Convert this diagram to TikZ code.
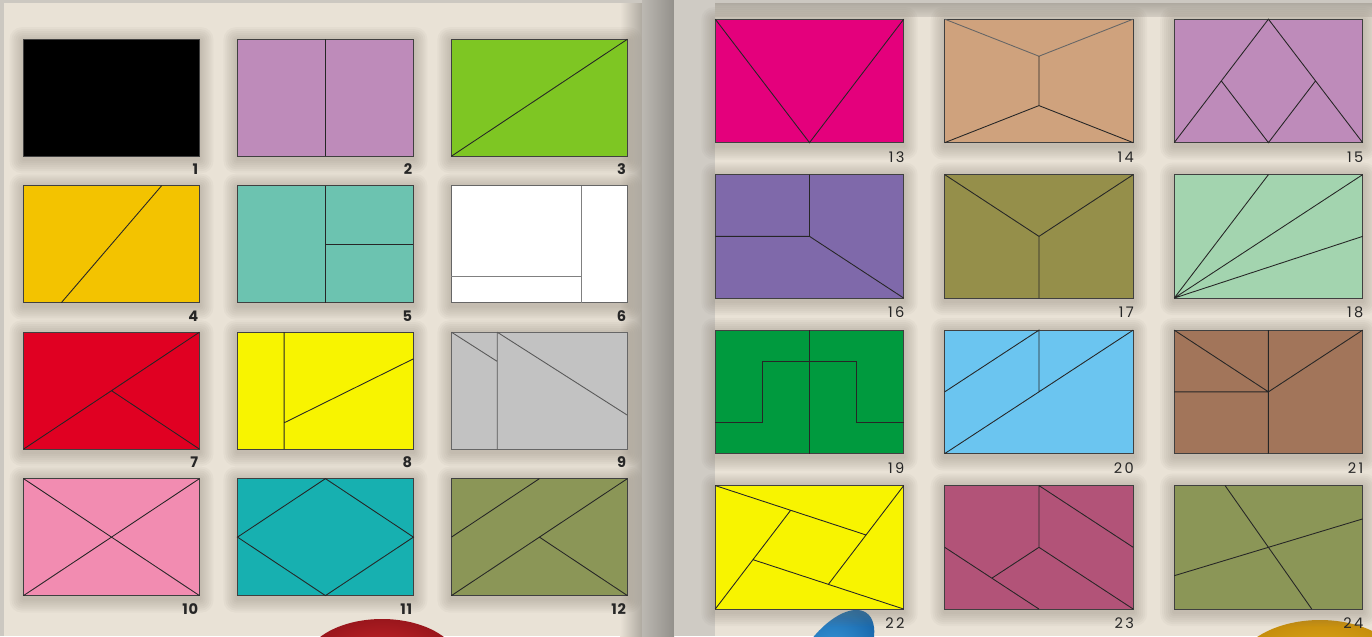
\documentclass[tikz,border=0pt]{standalone}
\usepackage{fontspec}
\usepackage{xcolor}
\usetikzlibrary{positioning, backgrounds}
\newfontfamily\numfont[LetterSpace=6]{Poppins}
\newfontfamily\numfontR[LetterSpace=16]{Poppins}

\definecolor{papel}{HTML}{E9E2D6}
\definecolor{lomo}{HTML}{CCC8C1}
\definecolor{sombra}{HTML}{7A7062}
\definecolor{lila}{HTML}{BE8BBA}
\definecolor{lima}{HTML}{7EC623}
\definecolor{ambar}{HTML}{F3C300}
\definecolor{aguamarina}{HTML}{6CC3B0}
\definecolor{rojo}{HTML}{E00022}
\definecolor{amarillo}{HTML}{F8F400}
\definecolor{gris}{HTML}{C2C2C2}
\definecolor{rosa}{HTML}{F28CB1}
\definecolor{turquesa}{HTML}{17B0B0}
\definecolor{oliva}{HTML}{8B9657}
\definecolor{magenta}{HTML}{E4007C}
\definecolor{canela}{HTML}{CFA27D}
\definecolor{violeta}{HTML}{7F69AA}
\definecolor{caqui}{HTML}{958F4A}
\definecolor{menta}{HTML}{A3D4AF}
\definecolor{pino}{HTML}{009A3E}
\definecolor{celeste}{HTML}{6BC5F0}
\definecolor{cafe}{HTML}{A2755A}
\definecolor{frambuesa}{HTML}{B25378}
\definecolor{pelotaA}{HTML}{D42A2E}
\definecolor{pelotaB}{HTML}{9A161C}
\definecolor{tizaA}{HTML}{3C9EE0}
\definecolor{tizaB}{HTML}{1A6AAE}
\definecolor{aroA}{HTML}{E8B322}
\definecolor{aroB}{HTML}{C68E0C}

\pgfdeclarelayer{papel}
\pgfsetlayers{papel,background,main}

\tikzset{
  tile/.style={
    rectangle, draw=black!75, line width=0.6pt, inner sep=0pt, outer sep=0pt,
    minimum width=3.52cm, minimum height=2.34cm
  },
  tileR/.style={tile, minimum width=3.77cm, minimum height=2.47cm},
  cut/.style={draw=black!85, line width=0.5pt},
  ladoL/.style={x=3.52cm, y=-2.34cm},
  ladoR/.style={x=3.77cm, y=-2.47cm},
  num/.style={font=\numfont\bfseries\fontsize{8.3}{9}\selectfont, inner sep=0pt, text=black!85},
  numR/.style={font=\numfontR\fontsize{8.3}{9}\selectfont, inner sep=0pt, text=black!85}
}

\begin{document}
\begin{tikzpicture}[x=0.02cm, y=-0.02cm]
  \useasboundingbox (0,0) rectangle (1372,636);

  % Paginas
  \begin{pgfonlayer}{papel}
    \fill[lomo] (0,0) rectangle (1372,636);
    \fill[papel] (4,3) rectangle (642,636);
    \shade[left color=papel, right color=papel!75!black] (620,3) rectangle (642,636);
    \shade[left color=lomo!92!black, right color=lomo!72!black] (642,0) rectangle (674,636);
    \fill[lomo!95!white] (674,0) rectangle (715,636);
    \fill[papel] (715,3) rectangle (1372,636);
    \shade[top color=papel!75!black, bottom color=papel!90!black] (715,3) rectangle (1372,16);
  \end{pgfonlayer}

  % Piezas, pagina izquierda
  \node[tile, fill=black] (r1) at (111.5,97.7) {};
  \node[tile, fill=lila, right=0.76cm of r1] (r2) {};
  \node[tile, fill=lima, right=0.76cm of r2] (r3) {};
  \node[tile, fill=ambar, below=0.59cm of r1] (r4) {};
  \node[tile, fill=aguamarina, right=0.76cm of r4] (r5) {};
  \node[tile, fill=white, draw=black!60, right=0.76cm of r5] (r6) {};
  \node[tile, fill=rojo, below=0.59cm of r4] (r7) {};
  \node[tile, fill=amarillo, right=0.76cm of r7] (r8) {};
  \node[tile, fill=gris, draw=black!60, right=0.76cm of r8] (r9) {};
  \node[tile, fill=rosa, below=0.59cm of r7] (r10) {};
  \node[tile, fill=turquesa, right=0.76cm of r10] (r11) {};
  \node[tile, fill=oliva, right=0.76cm of r11] (r12) {};

  % Piezas, pagina derecha
  \node[tileR, fill=magenta] (r13) at (809.5,80.9) {};
  \node[tileR, fill=canela, right=0.82cm of r13] (r14) {};
  \node[tileR, fill=lila, right=0.82cm of r14] (r15) {};
  \node[tileR, fill=violeta, below=0.64cm of r13] (r16) {};
  \node[tileR, fill=caqui, right=0.82cm of r16] (r17) {};
  \node[tileR, fill=menta, right=0.82cm of r17] (r18) {};
  \node[tileR, fill=pino, below=0.64cm of r16] (r19) {};
  \node[tileR, fill=celeste, right=0.82cm of r19] (r20) {};
  \node[tileR, fill=cafe, right=0.82cm of r20] (r21) {};
  \node[tileR, fill=amarillo, below=0.64cm of r19] (r22) {};
  \node[tileR, fill=frambuesa, right=0.82cm of r22] (r23) {};
  \node[tileR, fill=oliva, right=0.82cm of r23] (r24) {};

  % Cortes
  \begin{scope}[shift={(r2.north west)}, ladoL]
    \draw[cut] (0.5,0) -- (0.5,1);
  \end{scope}
  \begin{scope}[shift={(r3.north west)}, ladoL]
    \draw[cut] (0,1) -- (1,0);
  \end{scope}
  \begin{scope}[shift={(r4.north west)}, ladoL]
    \draw[cut] (0.785,0) -- (0.215,1);
  \end{scope}
  \begin{scope}[shift={(r5.north west)}, ladoL]
    \draw[cut] (0.5,0) -- (0.5,1) (0.5,0.5) -- (1,0.5);
  \end{scope}
  \begin{scope}[shift={(r6.north west)}, ladoL]
    \draw[cut, draw=black!50] (0.74,0) -- (0.74,1) (0,0.775) -- (0.74,0.775);
  \end{scope}
  \begin{scope}[shift={(r7.north west)}, ladoL]
    \draw[cut] (0,1) -- (1,0) (0.5,0.5) -- (1,1);
  \end{scope}
  \begin{scope}[shift={(r8.north west)}, ladoL]
    \draw[cut] (0.265,0) -- (0.265,1) (0.265,0.775) -- (1,0.228);
  \end{scope}
  \begin{scope}[shift={(r9.north west)}, ladoL]
    \draw[cut, draw=black!65] (0.26,0) -- (0.26,1) (0,0) -- (0.26,0.25) (0.26,0) -- (1,0.71);
  \end{scope}
  \begin{scope}[shift={(r10.north west)}, ladoL]
    \draw[cut] (0,0) -- (1,1) (0,1) -- (1,0);
  \end{scope}
  \begin{scope}[shift={(r11.north west)}, ladoL]
    \draw[cut] (0.5,0) -- (1,0.5) -- (0.5,1) -- (0,0.5) -- cycle;
  \end{scope}
  \begin{scope}[shift={(r12.north west)}, ladoL]
    \draw[cut] (0,1) -- (1,0) (0.5,0.5) -- (1,1) (0,0.5) -- (0.5,0);
  \end{scope}

  \begin{scope}[shift={(r13.north west)}, ladoR]
    \draw[cut] (0,0) -- (0.5,1) -- (1,0);
  \end{scope}
  \begin{scope}[shift={(r14.north west)}, ladoR]
    \draw[cut, draw=black!60] (0,0) -- (0.5,0.3) -- (1,0);
    \draw[cut] (0.5,0.3) -- (0.5,0.7) (0,1) -- (0.5,0.7) -- (1,1);
  \end{scope}
  \begin{scope}[shift={(r15.north west)}, ladoR]
    \draw[cut] (0,1) -- (0.5,0) -- (1,1) (0.25,0.5) -- (0.5,1) -- (0.75,0.5);
  \end{scope}
  \begin{scope}[shift={(r16.north west)}, ladoR]
    \draw[cut] (0.5,0) -- (0.5,0.5) -- (1,1) (0,0.5) -- (0.5,0.5);
  \end{scope}
  \begin{scope}[shift={(r17.north west)}, ladoR]
    \draw[cut] (0,0) -- (0.5,0.5) -- (1,0) (0.5,0.5) -- (0.5,1);
  \end{scope}
  \begin{scope}[shift={(r18.north west)}, ladoR]
    \draw[cut] (0,1) -- (0.5,0) (0,1) -- (1,0) (0,1) -- (1,0.5);
  \end{scope}
  \begin{scope}[shift={(r19.north west)}, ladoR]
    \draw[cut] (0.5,0) -- (0.5,1);
    \draw[cut] (0,0.75) -- (0.25,0.75) -- (0.25,0.25) -- (0.75,0.25) -- (0.75,0.75) -- (1,0.75);
  \end{scope}
  \begin{scope}[shift={(r20.north west)}, ladoR]
    \draw[cut] (0,0.5) -- (0.5,0) -- (0.5,0.5) (0,1) -- (1,0);
  \end{scope}
  \begin{scope}[shift={(r21.north west)}, ladoR]
    \draw[cut] (0.5,0) -- (0.5,1) (0,0) -- (0.5,0.5) -- (1,0) (0,0.5) -- (0.5,0.5);
  \end{scope}
  \begin{scope}[shift={(r22.north west)}, ladoR]
    \draw[cut] (0,0) -- (0.8,0.4) (1,0) -- (0.6,0.8) (1,1) -- (0.2,0.6) (0,1) -- (0.4,0.2);
  \end{scope}
  \begin{scope}[shift={(r23.north west)}, ladoR]
    \draw[cut] (0.5,0) -- (0.5,0.5) -- (1,1) (0.5,0) -- (1,0.5)
      (0,0.5) -- (0.5,1) (0.5,0.5) -- (0.25,0.75);
  \end{scope}
  \begin{scope}[shift={(r24.north west)}, ladoR]
    \draw[cut] (0.27,0) -- (0.73,1) (0,0.73) -- (1,0.27);
  \end{scope}

  % Numeros
  \foreach \i in {1,...,12}
    \node[num, below left=0.15cm and 0.02cm of r\i.south east] (n\i) {\i};
  \foreach \i in {13,...,24}
    \node[numR, below left=0.17cm and -0.02cm of r\i.south east] (n\i) {\i};

  % Sombras y juguetes al pie
  \begin{scope}[on background layer]
    \shade[inner color=pelotaA, outer color=pelotaB] (382,665) ellipse [x radius=78, y radius=46];
    \shade[inner color=tizaA, outer color=tizaB, rotate around={-35:(832,662)}]
      (832,662) ellipse [x radius=30, y radius=60];
    \shade[inner color=aroA, outer color=aroB] (1320,672) ellipse [x radius=85, y radius=52];
    \foreach \t in {1,...,24}
      \foreach \k in {1,...,7}
        \fill[sombra, opacity=0.05, rounded corners=\k pt]
          ([shift={(-2*\k,-2*\k+2)}]r\t.north west) rectangle ([shift={(2*\k,2*\k+3)}]r\t.south east);
  \end{scope}

\end{tikzpicture}
\end{document}
